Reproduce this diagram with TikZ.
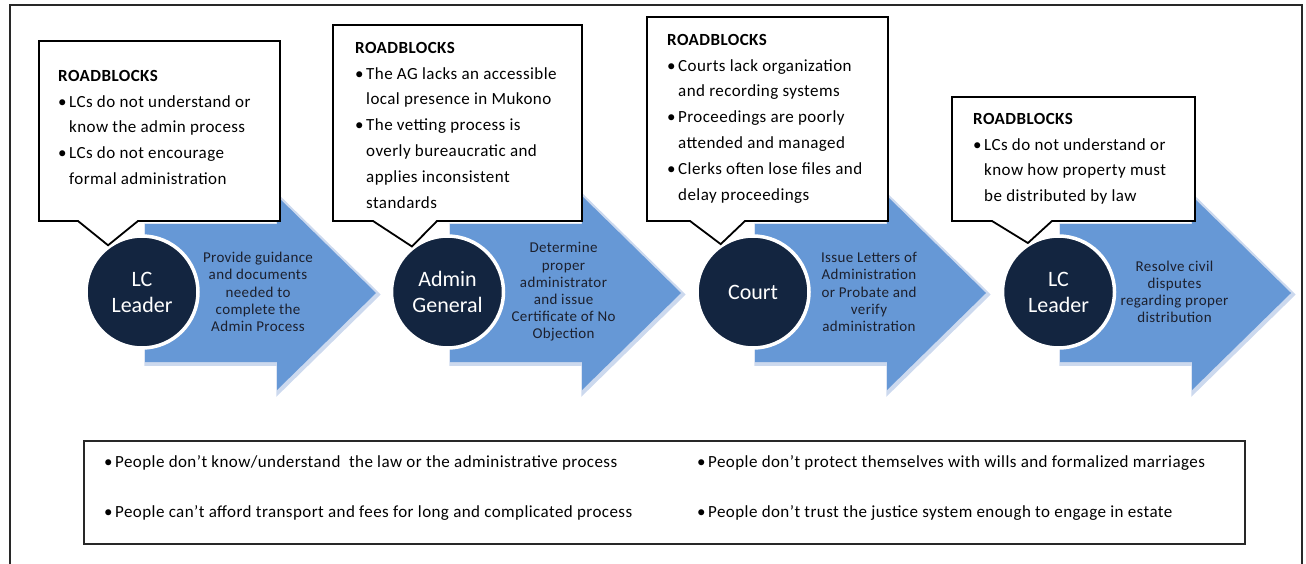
\documentclass[tikz,border=0pt]{standalone}
\usepackage{fontspec}
\setmainfont{Carlito}[LetterSpace=2.5]
\newfontfamily\stagefont{Carlito}
\usetikzlibrary{positioning}
\definecolor{flowblue}{RGB}{102,152,214}
\definecolor{flowglow}{RGB}{204,217,238}
\definecolor{stagenavy}{RGB}{19,37,64}
\definecolor{tasktext}{RGB}{28,32,46}
\definecolor{framegray}{RGB}{40,40,40}
\newcommand\bul{\makebox[11pt][l]{\textbullet}}
\newcommand\hang{\hspace*{11pt}}
\tikzset{
  chevron/.style={insert path={(0,-69) -- (132,-69) -- (132,-97) -- (231,0) -- (132,97) -- (132,69) -- (0,69) -- cycle}},
  flow arrow/.pic={
    \draw[flowglow, fill=flowglow, line width=4.5pt, line join=miter, shift={(1.5,1.5)}, chevron];
    \fill[flowblue, chevron];
  },
  stage/.style={circle, fill=stagenavy, draw=white, line width=3.5pt, minimum size=112pt, inner sep=0pt, text=white, align=center, font=\stagefont\fontsize{22}{26}\selectfont},
  task/.style={align=center, text=tasktext, font=\fontsize{15}{17.2}\selectfont},
  callout/.style={draw=black, fill=white, line width=1.8pt, line join=miter},
  blocks/.style={anchor=north west, align=left, inner sep=0pt, font=\fontsize{17}{25.8}\selectfont},
  cause/.style={anchor=base west, inner sep=0pt, font=\fontsize{17}{20}\selectfont}
}

\begin{document}
\begin{tikzpicture}[x=1pt,y=-1pt]
  \useasboundingbox (0,0) rectangle (1306,564);
  \draw[framegray, line width=2pt] (10,566) |- (1302,5) -- (1302,566);

  % process arrows
  \pic at (145,293) {flow arrow};
  \pic at (450,293) {flow arrow};
  \pic at (755,293) {flow arrow};
  \pic at (1060,293) {flow arrow};

  \begin{scope}[on grid]
  \node[stage] (lc1) at (142,292) {LC\\Leader};
  \node[stage] (agen) [right=305.5pt of lc1] {Admin\\General};
  \node[stage] (court) [right=305.5pt of agen] {Court};
  \node[stage] (lc2) [right=305.5pt of court] {LC\\Leader};

  \node[task] (lc1 task) [right=116pt of lc1] {Provide guidance\\and documents\\needed to\\complete the\\Admin Process};
  \node[task] (agen task) [right=116pt of agen] {Determine\\proper\\administrator\\and issue\\Certificate of No\\Objection};
  \node[task] (court task) [right=116pt of court] {Issue Letters of\\Administration\\or Probate and\\verify\\administration};
  \node[task] (lc2 task) [right=116pt of lc2] {Resolve civil\\disputes\\regarding proper\\distribution};
  \end{scope}

  % roadblock callouts
  \draw[callout] (39,41) -- (280,41) -- (280,221) -- (138,221) -- (lc1.126) -- (78,221) -- (39,221) -- cycle;
  \draw[callout] (333,25) -- (582,25) -- (582,221) -- (437,221) -- (agen.128) -- (373,221) -- (333,221) -- cycle;
  \draw[callout] (647,17) -- (888,17) -- (888,221) -- (745,221) -- (court.124) -- (690,221) -- (647,221) -- cycle;
  \draw[callout] (952,97) -- (1195,97) -- (1195,221) -- (1052,221) -- (lc2.122) -- (992,221) -- (952,221) -- cycle;

  \node[blocks] (lc1 blocks) at (58,70) {\textbf{ROADBLOCKS}\\
    \bul LCs do not understand or\\ \hang know the admin process\\
    \bul LCs do not encourage\\ \hang formal administration};
  \node[blocks] (agen blocks) at (355,42) {\textbf{ROADBLOCKS}\\
    \bul The AG lacks an accessible\\ \hang local presence in Mukono\\
    \bul The vetting process is\\ \hang overly bureaucratic and\\ \hang applies inconsistent\\ \hang standards};
  \node[blocks] (court blocks) at (667,34) {\textbf{ROADBLOCKS}\\
    \bul Courts lack organization\\ \hang and recording systems\\
    \bul Proceedings are poorly\\ \hang attended and managed\\
    \bul Clerks often lose files and\\ \hang delay proceedings};
  \node[blocks] (lc2 blocks) at (973,113) {\textbf{ROADBLOCKS}\\
    \bul LCs do not understand or\\ \hang know how property must\\ \hang be distributed by law};

  % general causes
  \draw[framegray, line width=1.3pt] (84,441) rectangle (1245,544);
  \node[cause] (know) at (104,467) {\bul People don’t know/understand~ the law or the administrative process};
  \node[cause] (afford) at (104,517) {\bul People can’t afford transport and fees for long and complicated process};
  \node[cause] (wills) at (697,467) {\bul People don’t protect themselves with wills and formalized marriages};
  \node[cause] (trust) at (697,517) {\bul People don’t trust the justice system enough to engage in estate};
\end{tikzpicture}
\end{document}
